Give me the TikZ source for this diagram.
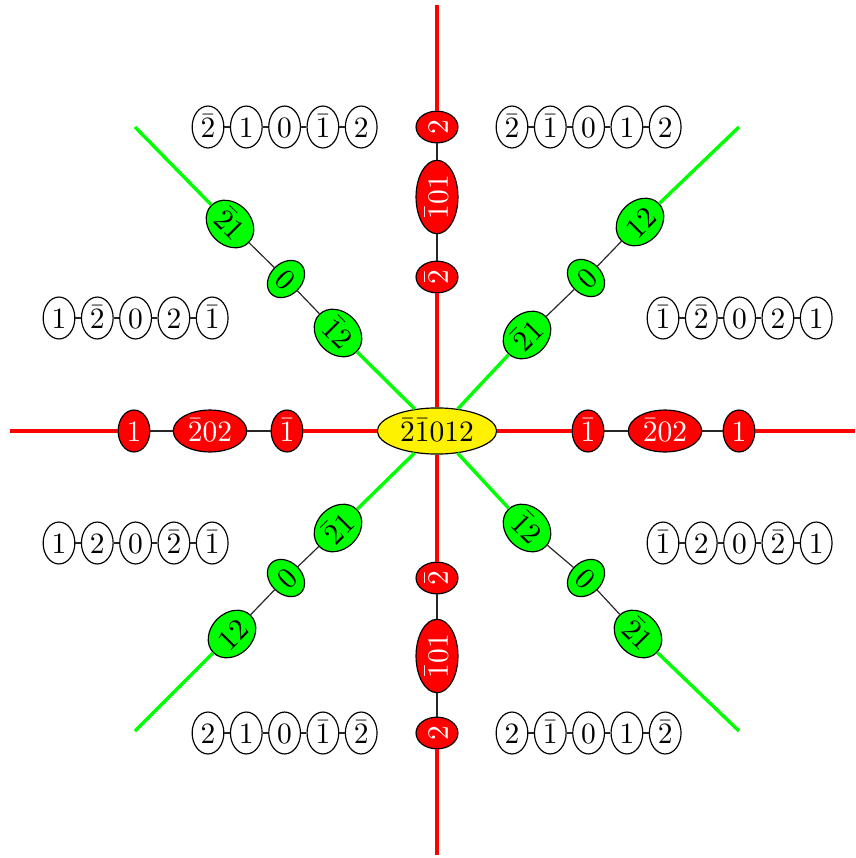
\documentclass[tikz,border=0pt]{standalone}
\usetikzlibrary{shapes.geometric}
\tikzset{
  base/.style={ellipse, draw=black, line width=0.4pt, inner sep=1.3pt, text height=7.45pt, text depth=0pt},
  rnode/.style={base, fill=red, text=white},
  gnode/.style={base, fill=green},
  ynode/.style={base, fill=yellow, inner sep=1.8pt},
  wnode/.style={base, fill=white},
  redline/.style={red, line width=1.15pt},
  greenline/.style={green, line width=1.15pt},
  link/.style={black!85, line width=0.4pt},
}
\newcommand{\wrow}[4]{%
  \foreach \t [count=\i] in {#4} {
    \node[wnode] (#1\i) at ({#2+(\i-1)*38.3},#3) {$\t$};
  }
  \foreach \i [evaluate=\i as \j using int(\i+1)] in {1,...,4} {\draw[link] (#1\i) -- (#1\j);}
}
\begin{document}
\begin{tikzpicture}[x=0.339pt,y=-0.339pt]
\useasboundingbox (0,0) rectangle (855,858);
% end coordinates
\coordinate (eR) at (855,431);
\coordinate (eL) at (10,431);
\coordinate (eU) at (437,5);
\coordinate (eD) at (437,855);
\coordinate (eUR) at (739,127);
\coordinate (eUL) at (135,127);
\coordinate (eLL) at (135,731);
\coordinate (eLR) at (739,731);
% center
\node[ynode] (c) at (437,431) {$\bar{2}\bar{1}012$};
% right
\node[rnode] (r1) at (588,431) {$\bar{1}$};
\node[rnode] (r2) at (665,431) {$\bar{2}02$};
\node[rnode] (r3) at (739,431) {$1$};
% left
\node[rnode] (l1) at (287,431) {$\bar{1}$};
\node[rnode] (l2) at (210,431) {$\bar{2}02$};
\node[rnode] (l3) at (134,431) {$1$};
% up
\node[rnode, rotate=90] (u1) at (437,277) {$\bar{2}$};
\node[rnode, rotate=90] (u2) at (437,197) {$\bar{1}01$};
\node[rnode, rotate=90] (u3) at (437,127) {$2$};
% down
\node[rnode, rotate=90] (d1) at (437,578) {$\bar{2}$};
\node[rnode, rotate=90] (d2) at (437,656) {$\bar{1}01$};
\node[rnode, rotate=90] (d3) at (437,733) {$2$};
% upper right
\node[gnode, rotate=45] (ur1) at (527,335) {$\bar{2}1$};
\node[gnode, rotate=45] (ur2) at (586,278) {$0$};
\node[gnode, rotate=45] (ur3) at (640,222) {$12$};
% upper left
\node[gnode, rotate=-45] (ul1) at (338,333) {$\bar{1}2$};
\node[gnode, rotate=-45] (ul2) at (286,279) {$0$};
\node[gnode, rotate=-45] (ul3) at (230,224) {$\bar{2}1$};
% lower left
\node[gnode, rotate=45] (ll1) at (338,528) {$\bar{2}1$};
\node[gnode, rotate=45] (ll2) at (286,578) {$0$};
\node[gnode, rotate=45] (ll3) at (232,634) {$12$};
% lower right
\node[gnode, rotate=-45] (lr1) at (527,528) {$\bar{1}2$};
\node[gnode, rotate=-45] (lr2) at (586,578) {$0$};
\node[gnode, rotate=-45] (lr3) at (638,634) {$\bar{2}1$};
% connectors
\foreach \b in {r,l,u,d} {
  \draw[redline] (c) -- (\b1);
  \draw[link] (\b1) -- (\b2);
  \draw[link] (\b2) -- (\b3);
}
\draw[redline] (r3) -- (eR);
\draw[redline] (l3) -- (eL);
\draw[redline] (u3) -- (eU);
\draw[redline] (d3) -- (eD);
\foreach \b in {ur,ul,ll,lr} {
  \draw[greenline] (c) -- (\b1);
  \draw[link] (\b1) -- (\b2);
  \draw[link] (\b2) -- (\b3);
}
\draw[greenline] (ur3) -- (eUR);
\draw[greenline] (ul3) -- (eUL);
\draw[greenline] (ll3) -- (eLL);
\draw[greenline] (lr3) -- (eLR);
% tables
\wrow{ta}{208}{127}{\bar{2},1,0,\bar{1},2}
\wrow{tb}{512}{127}{\bar{2},\bar{1},0,1,2}
\wrow{tc}{59}{318}{1,\bar{2},0,2,\bar{1}}
\wrow{td}{663}{318}{\bar{1},\bar{2},0,2,1}
\wrow{te}{59}{543}{1,2,0,\bar{2},\bar{1}}
\wrow{tf}{663}{543}{\bar{1},2,0,\bar{2},1}
\wrow{tg}{208}{733}{2,1,0,\bar{1},\bar{2}}
\wrow{th}{512}{733}{2,\bar{1},0,1,\bar{2}}
\end{tikzpicture}
\end{document}
